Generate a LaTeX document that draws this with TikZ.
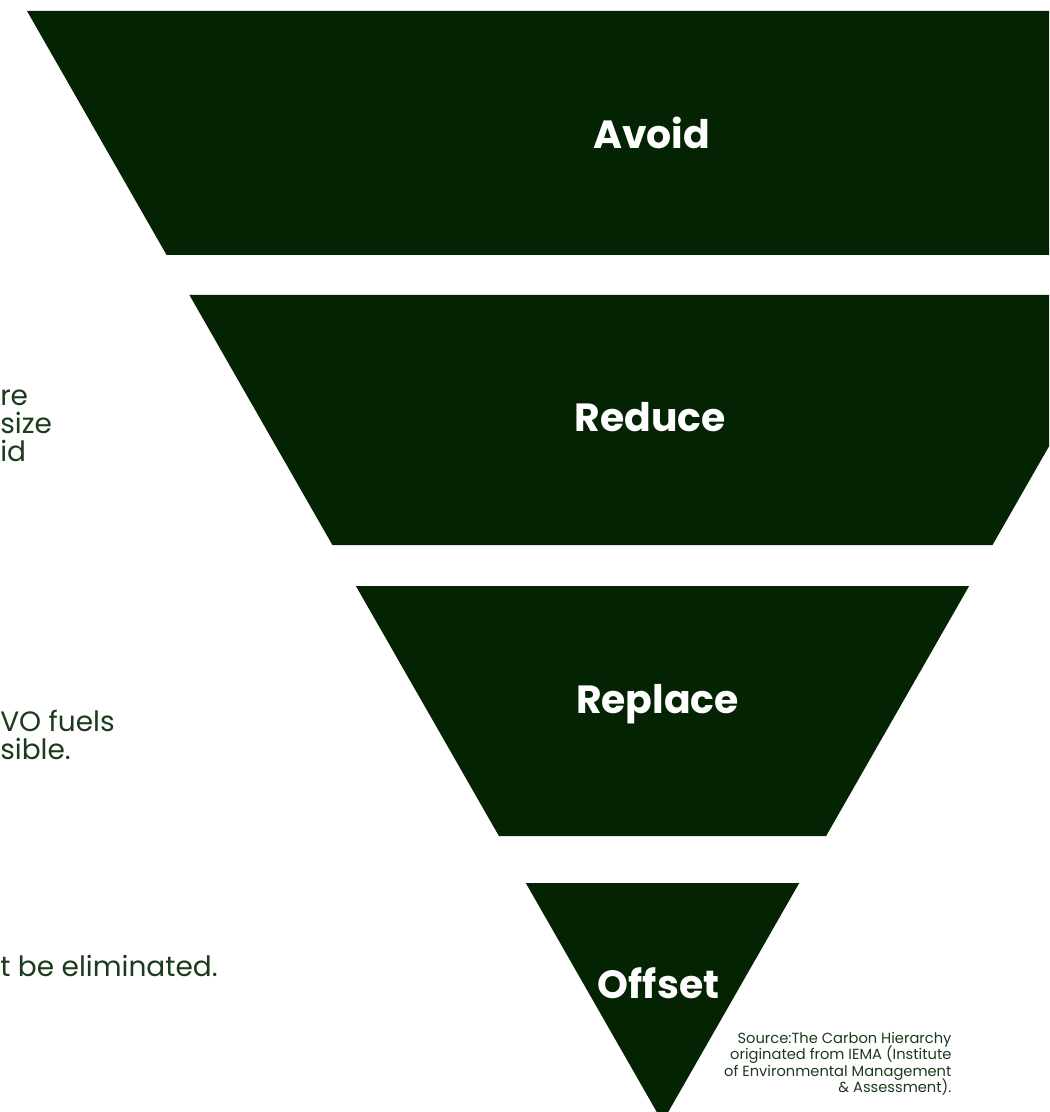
\documentclass[tikz,border=0pt]{standalone}
\usepackage{fontspec}
\setmainfont{Poppins}
\usepackage{tikz}
\usetikzlibrary{positioning, calc}
\definecolor{carbon}{RGB}{3,35,3}
\definecolor{carbontext}{RGB}{28,58,28}
\tikzstyle{band} = [fill=carbon]
\tikzstyle{lbl} = [text=white, font=\bfseries\fontsize{29.5}{36}\selectfont, inner sep=0pt, anchor=base]
\tikzstyle{side} = [text=carbontext, font=\fontsize{21}{25}\selectfont, inner sep=0pt, anchor=base west]
\tikzstyle{src} = [text=carbontext, font=\fontsize{11}{13}\selectfont, inner sep=0pt, anchor=base east]

\begin{document}
\begin{tikzpicture}[x=0.75pt, y=-0.75pt]
    \useasboundingbox (0, 0) rectangle (1049, 1112);
    \clip (0, 0) rectangle (1049, 1112);
    % the four bands of the hierarchy
    \fill[band] (27, 11) -- (1298, 11) -- (1158, 255) -- (166.6, 255) -- cycle;
    \fill[band] (189.4, 295) -- (1135.6, 295) -- (992.5, 545) -- (332.4, 545) -- cycle;
    \fill[band] (355.9, 586) -- (969.1, 586) -- (826.1, 836) -- (498.9, 836) -- cycle;
    \fill[band] (525.8, 883) -- (799.2, 883) -- (662.5, 1122) -- cycle;
    \node[lbl] (avoid) at (651.5, 149) {Avoid};
    \node[lbl] (reduce) at (650, 431.7) {Reduce};
    \node[lbl] (replace) at (657.5, 713) {Replace};
    \node[lbl] (offset) at (658.5, 998) {Offset};
    % text cut at the left border
    \node[side] (reduceA) at (0, 405) {re};
    \node[side] (reduceB) at (0, 433) {size};
    \node[side] (reduceC) at (0, 461) {id};
    \node[side] (replaceA) at (0, 731) {VO fuels};
    \node[side] (replaceB) at (0, 759) {sible.};
    \node[side] (offsetA) at (0, 976) {t be eliminated.};
    % source
    \node[src] (srcA) at (951.7, 1043) {Source:The Carbon Hierarchy};
    \node[src] (srcB) at (951.7, 1059.5) {originated from IEMA (Institute};
    \node[src] (srcC) at (951.7, 1076) {of Environmental Management};
    \node[src] (srcD) at (951.7, 1092.5) {\& Assessment).};
\end{tikzpicture}
\end{document}
